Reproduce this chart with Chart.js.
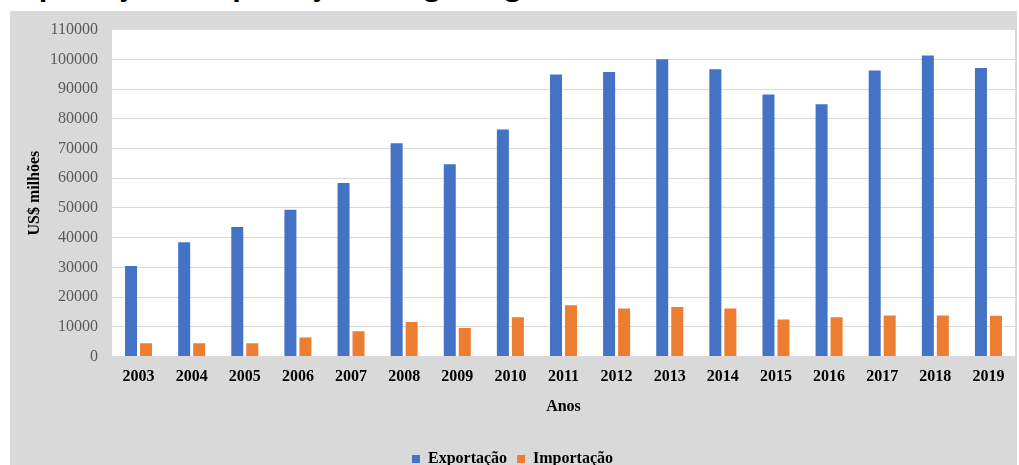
<!DOCTYPE html>
<html>
<head>
<meta charset="utf-8">
<script src="https://cdn.jsdelivr.net/npm/chart.js@4.4.0/dist/chart.umd.min.js"></script>
<style>
  html, body { margin: 0; padding: 0; background: #fff; width: 1019px; height: 465px; overflow: hidden; }
  #title { position: absolute; left: 7px; top: -30px; font: bold 28px "Open Sans", sans-serif; line-height: 28px; white-space: nowrap; color: #000; }
  #clip { position: absolute; left: 0; top: 0; width: 1019px; height: 11px; overflow: hidden; }
  #box { position: absolute; left: 10px; top: 11px; width: 1007px; height: 454px; background: #d9d9d9; }
  #wrap { position: absolute; left: 0; top: -5px; width: 1007px; height: 471px; }
</style>
</head>
<body>
<div id="clip"><div id="title">Exportação e Importação do agronegócio brasileiro (2003-2019)</div></div>
<div id="box"><div id="wrap"><canvas id="chart"></canvas></div></div>
<script>
const anos = ['2003','2004','2005','2006','2007','2008','2009','2010','2011','2012','2013','2014','2015','2016','2017','2018','2019'];
const exportacao = [30500, 38500, 43600, 49400, 58400, 71800, 64700, 76400, 94900, 95700, 100000, 96700, 88200, 84900, 96200, 101300, 97100];
const importacao = [4500, 4500, 4500, 6400, 8500, 11600, 9600, 13200, 17300, 16200, 16700, 16200, 12500, 13200, 13800, 13800, 13700];

const serif = "'Liberation Serif', 'Times New Roman', serif";

// white plot area on the gray chart background
const plotBg = {
  id: 'plotBg',
  beforeDraw(chart) {
    const a = chart.chartArea;
    const c = chart.ctx;
    c.save();
    c.fillStyle = '#ffffff';
    c.fillRect(a.left, a.top, a.right - a.left, a.bottom - a.top);
    c.restore();
  }
};

const ctx = document.getElementById('chart').getContext('2d');
new Chart(ctx, {
  type: 'bar',
  plugins: [plotBg],
  data: {
    labels: anos,
    datasets: [
      { label: 'Exportação', data: exportacao, backgroundColor: '#4472c4', barPercentage: 0.8, categoryPercentage: 0.565 },
      { label: 'Importação', data: importacao, backgroundColor: '#ed7d31', barPercentage: 0.8, categoryPercentage: 0.565 }
    ]
  },
  options: {
    responsive: true,
    maintainAspectRatio: false,
    animation: false,
    layout: { padding: { top: 9, right: 2, left: 0, bottom: 0 } },
    scales: {
      x: {
        grid: { display: false },
        border: { display: false },
        ticks: { color: '#000', font: { family: serif, size: 16, weight: 'bold' }, padding: 3 },
        title: { display: true, text: 'Anos', color: '#000', font: { family: serif, size: 16, weight: 'bold' }, padding: { top: 7, bottom: 25 } }
      },
      y: {
        min: 0,
        max: 110000,
        afterFit(scale) { scale.width = 102; },
        grid: { color: '#d9d9d9', drawTicks: false },
        border: { display: false },
        ticks: { stepSize: 10000, color: '#595959', font: { family: serif, size: 16 }, padding: 14, callback: (v) => String(v) },
        title: { display: true, text: 'US$ milhões', color: '#000', font: { family: serif, size: 16, weight: 'bold' }, padding: { top: 15, bottom: 0 } }
      }
    },
    plugins: {
      tooltip: { enabled: false },
      legend: {
        position: 'bottom',
        labels: { boxWidth: 8, boxHeight: 8, color: '#000', padding: 10, font: { family: serif, size: 16, weight: 'bold' } }
      }
    }
  }
});
</script>
</body>
</html>
